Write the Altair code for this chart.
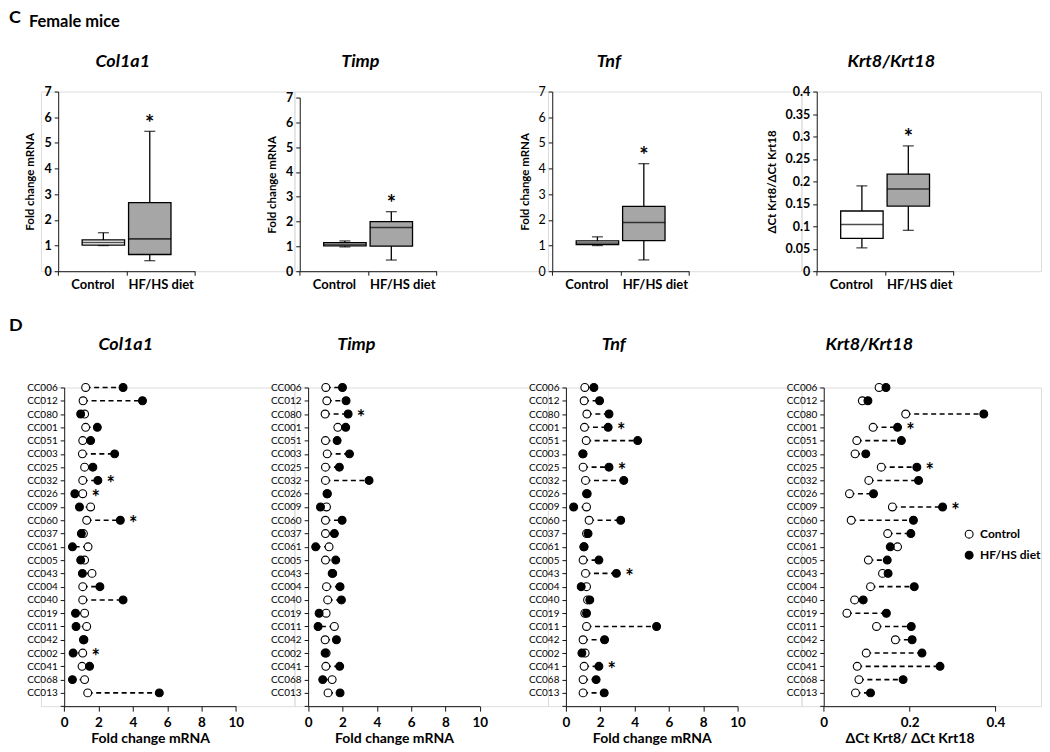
import altair as alt
import pandas as pd

# ---------------- data ----------------
strains = ["CC006", "CC012", "CC080", "CC001", "CC051", "CC003", "CC025", "CC032",
           "CC026", "CC009", "CC060", "CC037", "CC061", "CC005", "CC043", "CC004",
           "CC040", "CC019", "CC011", "CC042", "CC002", "CC041", "CC068", "CC013"]

col1a1_control = [1.25, 1.10, 1.19, 1.25, 1.08, 1.06, 1.19, 1.08, 1.08, 1.54, 1.31, 1.12,
                  1.39, 1.19, 1.62, 1.08, 1.08, 1.19, 1.31, 1.12, 1.08, 1.04, 1.19, 1.37]
col1a1_hfhs = [3.43, 4.56, 0.96, 1.93, 1.54, 2.94, 1.67, 1.96, 0.62, 0.89, 3.27, 1.00,
               0.48, 0.96, 1.06, 2.08, 3.43, 0.66, 0.69, 1.15, 0.52, 1.48, 0.48, 5.54]

timp_control = [1.03, 1.09, 0.99, 1.73, 1.01, 1.11, 1.01, 1.01, 1.10, 1.07, 1.01, 1.01,
                1.22, 1.01, 1.40, 1.07, 1.14, 1.05, 1.53, 0.99, 1.05, 1.03, 1.40, 1.16]
timp_hfhs = [2.00, 2.21, 2.33, 2.19, 1.69, 2.41, 1.82, 3.55, 1.12, 0.72, 1.98, 1.53,
             0.44, 1.61, 1.43, 1.86, 1.94, 0.64, 0.58, 1.65, 0.99, 1.84, 0.85, 1.86]

tnf_control = [1.10, 1.06, 1.22, 1.08, 1.18, 0.98, 1.00, 1.14, 1.20, 1.20, 1.35, 1.20,
               1.04, 1.00, 1.14, 1.20, 1.26, 1.10, 1.20, 1.00, 1.12, 1.06, 1.00, 1.00]
tnf_hfhs = [1.63, 1.96, 2.51, 2.46, 4.18, 1.00, 2.51, 3.37, 1.24, 0.45, 3.19, 1.29,
            1.06, 1.92, 2.94, 0.89, 1.39, 1.20, 5.28, 2.25, 0.93, 1.92, 1.76, 2.23]

krt_control = [0.129, 0.090, 0.191, 0.115, 0.077, 0.073, 0.134, 0.105, 0.060, 0.160, 0.064, 0.149,
               0.172, 0.104, 0.137, 0.109, 0.072, 0.054, 0.123, 0.167, 0.099, 0.078, 0.082, 0.074]
krt_hfhs = [0.145, 0.103, 0.373, 0.172, 0.181, 0.098, 0.217, 0.221, 0.116, 0.277, 0.209, 0.203,
            0.155, 0.148, 0.150, 0.211, 0.092, 0.146, 0.204, 0.206, 0.229, 0.271, 0.185, 0.109]

col1a1_stars = ["CC032", "CC026", "CC060", "CC002"]
timp_stars = ["CC080"]
tnf_stars = ["CC001", "CC025", "CC043", "CC041"]
krt_stars = ["CC001", "CC025", "CC009"]

groups = ["Control", "HF/HS diet"]
# box summaries: [min, q1, median, q3, max]
box_col1a1_control = [1.00, 1.02, 1.12, 1.22, 1.50]
box_col1a1_hfhs = [0.41, 0.65, 1.26, 2.67, 5.45]
box_timp_control = [0.98, 1.02, 1.08, 1.15, 1.22]
box_timp_hfhs = [0.45, 1.01, 1.76, 2.00, 2.40]
box_tnf_control = [1.00, 1.04, 1.10, 1.18, 1.34]
box_tnf_hfhs = [0.44, 1.19, 1.90, 2.53, 4.19]
box_krt_control = [0.052, 0.073, 0.104, 0.134, 0.190]
box_krt_hfhs = [0.091, 0.145, 0.183, 0.216, 0.279]

fold_ticks = [0, 1, 2, 3, 4, 5, 6, 7]
krt_box_ticks = [0, 0.05, 0.1, 0.15, 0.2, 0.25, 0.3, 0.35, 0.4]
fold_x_ticks = [0, 2, 4, 6, 8, 10]
krt_x_ticks = [0, 0.2, 0.4]

# ---------------- layout / style ----------------
FONT = "Lato"
INK = "#151515"
SLOT_W = [254, 254, 254, 240]
C_LEFT = [17.3, 5.3, 4.3, 15.3]
D_LEFT = [23.3, 13.7, 18.0, 22.3]
C_W, C_H = 137, 180
D_W, D_H = 172, 319.3
C_TITLE_X = [82, 66, 61, 90]
D_TITLE_X = [85, 62, 66, 68]
C_TITLE_Y = -30
D_TITLE_Y = -43


def text_layer(txt, x, y, size, baseline="top", align="left", style="normal"):
    return alt.Chart(pd.DataFrame({"t": [txt]})).mark_text(
        font=FONT, fontSize=size, fontWeight="bold", fontStyle=style, align=align,
        baseline=baseline, color="black"
    ).encode(text="t:N", x=alt.value(x), y=alt.value(y))


def panel_title(txt, x, y):
    return text_layer(txt, x, y, 18, baseline="middle", align="center", style="italic")


def box_panel(i, name, ctrl, hf, ydomain, yvalues, ytitle, ytop=0, label_weight="bold",
              fmt="d", extra=()):
    L = C_LEFT[i]
    df = pd.DataFrame({"group": groups,
                       "lo": [ctrl[0], hf[0]], "q1": [ctrl[1], hf[1]], "med": [ctrl[2], hf[2]],
                       "q3": [ctrl[3], hf[3]], "hi": [ctrl[4], hf[4]]})
    yscale = alt.Scale(domain=ydomain, range=[C_H, ytop], nice=False, zero=False)
    yaxis = alt.Axis(values=yvalues, title=ytitle, format=fmt, offset=-L, grid=False, tickSize=4,
                     labelFontSize=12.5, labelFontWeight=label_weight, labelPadding=3,
                     titleFontSize=11.5, titleFontWeight="bold", titlePadding=8,
                     domainColor=INK, tickColor=INK, labelColor="black", titleColor="black",
                     labelFont=FONT, titleFont=FONT)

    def Y(f):
        return alt.Y(f"{f}:Q", scale=yscale, axis=yaxis)

    xa = alt.X("group:N", sort=groups,
               scale=alt.Scale(domain=groups, range=[L, L + C_W], paddingInner=0, paddingOuter=0),
               axis=alt.Axis(title=None, labelAngle=0, tickBand="extent", tickSize=4,
                             labelFontSize=13, labelFontWeight="bold", labelPadding=3,
                             labelFont=FONT, labelColor="black", domainColor=INK, tickColor=INK))
    xb = alt.X("group:N", sort=groups,
               scale=alt.Scale(domain=groups, range=[L, L + C_W], paddingInner=0.086,
                               paddingOuter=0.516),
               axis=None)
    base = alt.Chart(df)
    axis_layer = base.mark_point(opacity=0).encode(x=xa, y=Y("med"))
    whisk = base.mark_rule(color="black", strokeWidth=1.3).encode(x=xb, y=Y("lo"), y2="hi")
    cap_lo = base.mark_tick(color="black", size=11, thickness=1.3).encode(x=xb, y=Y("lo"))
    cap_hi = base.mark_tick(color="black", size=11, thickness=1.3).encode(x=xb, y=Y("hi"))
    box_c = base.transform_filter(alt.datum.group == "Control").mark_bar(
        fill="white", stroke="black", strokeWidth=1.3).encode(x=xb, y=Y("q1"), y2="q3")
    box_h = base.transform_filter(alt.datum.group == "HF/HS diet").mark_bar(
        fill="#a6a6a6", stroke="black", strokeWidth=1.3).encode(x=xb, y=Y("q1"), y2="q3")
    med = base.mark_tick(color="black", size=42.5, thickness=1.6).encode(x=xb, y=Y("med"))
    star = base.transform_filter(alt.datum.group == "HF/HS diet").mark_text(
        text="*", font=FONT, fontSize=22, fontWeight="bold", dy=-7.5, color="black"
    ).encode(x=xb, y=Y("hi"))
    boxes = alt.layer(whisk, cap_lo, cap_hi, box_c, box_h, med, star)
    ttl = panel_title(name, C_TITLE_X[i], C_TITLE_Y)
    return alt.layer(axis_layer, boxes, ttl, *extra).resolve_scale(x="independent").properties(
        width=SLOT_W[i], height=C_H)


def dot_panel(i, name, ctrl, hf, stars, xdomain, xvalues, xtitle, fmt="d", legend=False, extra=()):
    L = D_LEFT[i]
    ydom = strains + [" "]
    pairs = pd.DataFrame({"strain": strains, "ctrl": ctrl, "hf": hf})
    long = pd.DataFrame({"strain": strains * 2, "value": list(ctrl) + list(hf),
                         "group": ["Control"] * len(strains) + ["HF/HS diet"] * len(strains)})
    star_df = pd.DataFrame({"strain": stars,
                            "value": [max(ctrl[strains.index(s)], hf[strains.index(s)]) for s in stars]})
    xscale = alt.Scale(domain=xdomain, range=[L, L + D_W], nice=False, zero=False)
    xaxis = alt.Axis(values=xvalues, title=xtitle, format=fmt, grid=False, tickSize=5,
                     labelFontSize=13.5, labelFontWeight="bold", labelPadding=4,
                     titleFontSize=14, titleFontWeight="bold", titlePadding=3,
                     labelFont=FONT, titleFont=FONT, labelColor="black", titleColor="black",
                     domainColor=INK, tickColor=INK, labelFlush=False)
    Y = alt.Y("strain:N", sort=ydom,
              scale=alt.Scale(type="point", domain=ydom, padding=0),
              axis=alt.Axis(title=None, offset=-L, grid=False, tickSize=4, labelFontSize=10,
                            labelFontWeight="normal", labelPadding=3, labelFont=FONT,
                            labelColor="black", domainColor=INK, tickColor=INK))
    rule = alt.Chart(pairs).mark_rule(color="black", strokeWidth=1.6, strokeDash=[5, 3.5]).encode(
        x=alt.X("ctrl:Q", scale=xscale, axis=xaxis), x2="hf", y=Y)
    X = alt.X("value:Q", scale=xscale, axis=xaxis)
    if legend:
        pts = [alt.Chart(long).mark_circle(size=62, stroke="black", strokeWidth=1.1, opacity=1).encode(
            x=X, y=Y,
            fill=alt.Fill("group:N", scale=alt.Scale(domain=groups, range=["white", "black"]),
                          legend=alt.Legend(title=None, orient="none", legendX=162, legendY=141,
                                            symbolType="circle", symbolSize=62,
                                            symbolStrokeColor="black", symbolStrokeWidth=1.1,
                                            labelFont=FONT, labelFontSize=12, labelFontWeight="bold",
                                            labelColor="black", labelOffset=5, rowPadding=7,
                                            padding=0)))]
    else:
        pts = [
            alt.Chart(long).transform_filter(alt.datum.group == "Control").mark_circle(
                size=62, fill="white", stroke="black", strokeWidth=1.1, opacity=1).encode(x=X, y=Y),
            alt.Chart(long).transform_filter(alt.datum.group == "HF/HS diet").mark_circle(
                size=62, fill="black", stroke="black", strokeWidth=1.1, opacity=1).encode(x=X, y=Y),
        ]
    star = alt.Chart(star_df).mark_text(text="*", font=FONT, fontSize=20, fontWeight="bold",
                                        dx=13, dy=5, color="black").encode(x=X, y=Y)
    ttl = panel_title(name, D_TITLE_X[i], D_TITLE_Y)
    return alt.layer(rule, *pts, star, ttl, *extra).properties(width=SLOT_W[i], height=D_H)


c_extra = (text_layer("C", -32, -82.5, 18), text_layer("Female mice", -12, -70, 16.5, "middle"))
d_extra = (text_layer("D", -32, -62, 18, "middle"),)

c1 = box_panel(0, "Col1a1", box_col1a1_control, box_col1a1_hfhs, [0, 7], fold_ticks,
               "Fold change mRNA", extra=c_extra)
c2 = box_panel(1, "Timp", box_timp_control, box_timp_hfhs, [0, 7], fold_ticks,
               "Fold change mRNA", ytop=6)
c3 = box_panel(2, "Tnf", box_tnf_control, box_tnf_hfhs, [0, 7], fold_ticks,
               "Fold change mRNA", label_weight="normal")
c4 = box_panel(3, "Krt8/Krt18", box_krt_control, box_krt_hfhs, [0, 0.4], krt_box_ticks,
               "ΔCt Krt8/ΔCt Krt18", fmt=".2~f")

d1 = dot_panel(0, "Col1a1", col1a1_control, col1a1_hfhs, col1a1_stars, [0, 10], fold_x_ticks,
               "Fold change mRNA", extra=d_extra)
d2 = dot_panel(1, "Timp", timp_control, timp_hfhs, timp_stars, [0, 10], fold_x_ticks,
               "Fold change mRNA")
d3 = dot_panel(2, "Tnf", tnf_control, tnf_hfhs, tnf_stars, [0, 10], fold_x_ticks,
               "Fold change mRNA")
d4 = dot_panel(3, "Krt8/Krt18", krt_control, krt_hfhs, krt_stars, [0, 0.4], krt_x_ticks,
               "ΔCt Krt8/ ΔCt Krt18", fmt=".1~f", legend=True)

chart = alt.concat(c1, c2, c3, c4, d1, d2, d3, d4, columns=4,
                   spacing={"row": 116.5, "column": 0}, bounds="flush").resolve_scale(
    x="independent", y="independent", fill="independent"
).properties(
    padding={"left": 0, "top": 0, "right": 0, "bottom": 0}, background="white"
).configure_view(stroke=None).configure(font=FONT)

chart.save("out.html", embed_options={"renderer": "svg", "actions": False})
